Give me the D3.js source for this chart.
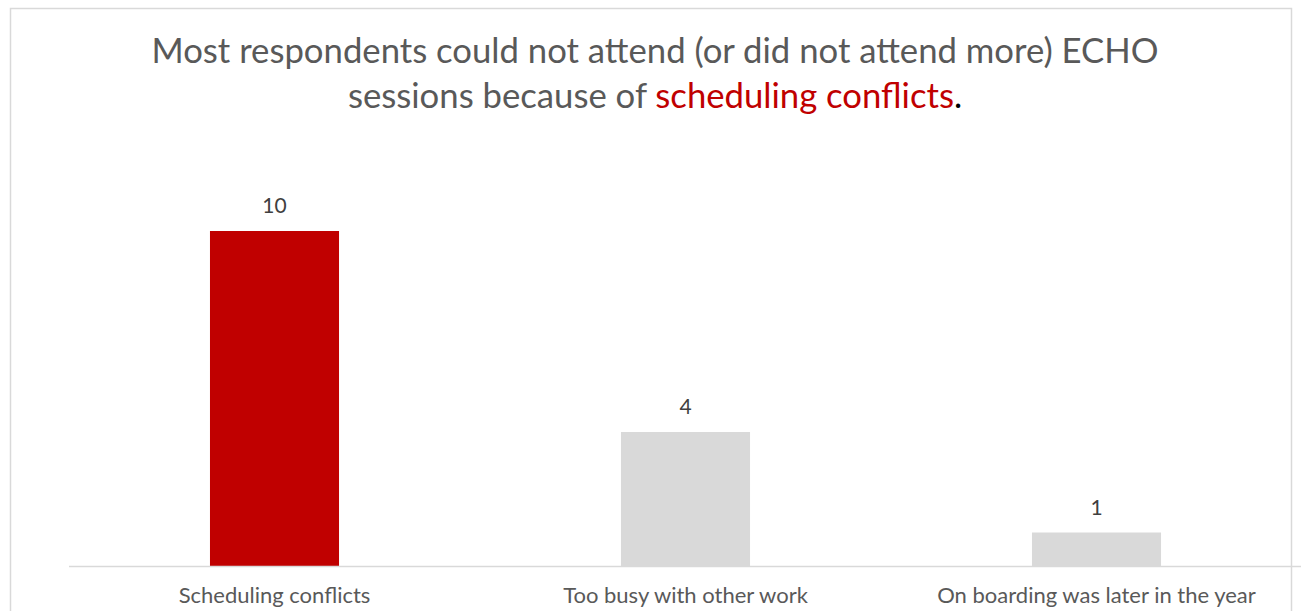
<!DOCTYPE html>
<html>
<head>
<meta charset="utf-8">
<script src="https://cdn.jsdelivr.net/npm/d3@7"></script>
<style>
  html, body { margin: 0; padding: 0; background: #fff; }
  svg { display: block; font-family: Lato, "Open Sans", sans-serif; }
</style>
</head>
<body>
<svg id="chart" width="1301" height="611"></svg>
<script>
// chart data
const categories = ["Scheduling conflicts", "Too busy with other work", "On boarding was later in the year"];
const counts = [10, 4, 1];
const barColors = ["#C00000", "#D9D9D9", "#D9D9D9"];

const titleLine1 = "Most respondents could not attend (or did not attend more) ECHO";
const titleLine2 = ["sessions because of ", "scheduling conflicts", "."];

const svg = d3.select("#chart");
const width = +svg.attr("width");
const height = +svg.attr("height");

// chart area border (cut off at bottom)
svg.append("rect")
    .attr("x", 10.5)
    .attr("y", 8.5)
    .attr("width", 1281)
    .attr("height", 640)
    .attr("fill", "none")
    .attr("stroke", "#D9D9D9")
    .attr("stroke-width", 1.5);

const x = d3.scaleBand()
    .domain(categories)
    .range([69, 1302])
    .paddingInner(0.686)
    .paddingOuter(0.343);

const y = d3.scaleLinear()
    .domain([0, 10])
    .range([566, 231]);

// bars
svg.append("g")
    .selectAll("rect")
    .data(categories)
    .enter().append("rect")
    .attr("x", d => x(d))
    .attr("y", (d, i) => y(counts[i]))
    .attr("width", x.bandwidth())
    .attr("height", (d, i) => y(0) - y(counts[i]))
    .attr("fill", (d, i) => barColors[i]);

// baseline
svg.append("line")
    .attr("x1", 69).attr("x2", width)
    .attr("y1", y(0) + 0.5).attr("y2", y(0) + 0.5)
    .attr("stroke", "#D9D9D9")
    .attr("stroke-width", 1.5);

// value labels
svg.append("g")
    .selectAll("text")
    .data(categories)
    .enter().append("text")
    .attr("x", d => x(d) + x.bandwidth() / 2)
    .attr("y", (d, i) => y(counts[i]) - 18)
    .attr("text-anchor", "middle")
    .attr("font-size", 21)
    .attr("fill", "#404040")
    .text((d, i) => counts[i]);

// category labels
svg.append("g")
    .selectAll("text")
    .data(categories)
    .enter().append("text")
    .attr("x", d => x(d) + x.bandwidth() / 2)
    .attr("y", 603)
    .attr("text-anchor", "middle")
    .attr("font-size", 22)
    .attr("fill", "#595959")
    .text(d => d);

// title
const title = svg.append("text")
    .attr("text-anchor", "middle")
    .attr("font-size", 34.7)
    .attr("fill", "#595959");

title.append("tspan")
    .attr("x", 655)
    .attr("y", 63)
    .text(titleLine1);

const line2 = title.append("tspan")
    .attr("x", 655)
    .attr("y", 108);
line2.append("tspan").text(titleLine2[0]);
line2.append("tspan").attr("fill", "#C00000").text(titleLine2[1]);
line2.append("tspan").attr("fill", "#000").text(titleLine2[2]);
</script>
</body>
</html>
